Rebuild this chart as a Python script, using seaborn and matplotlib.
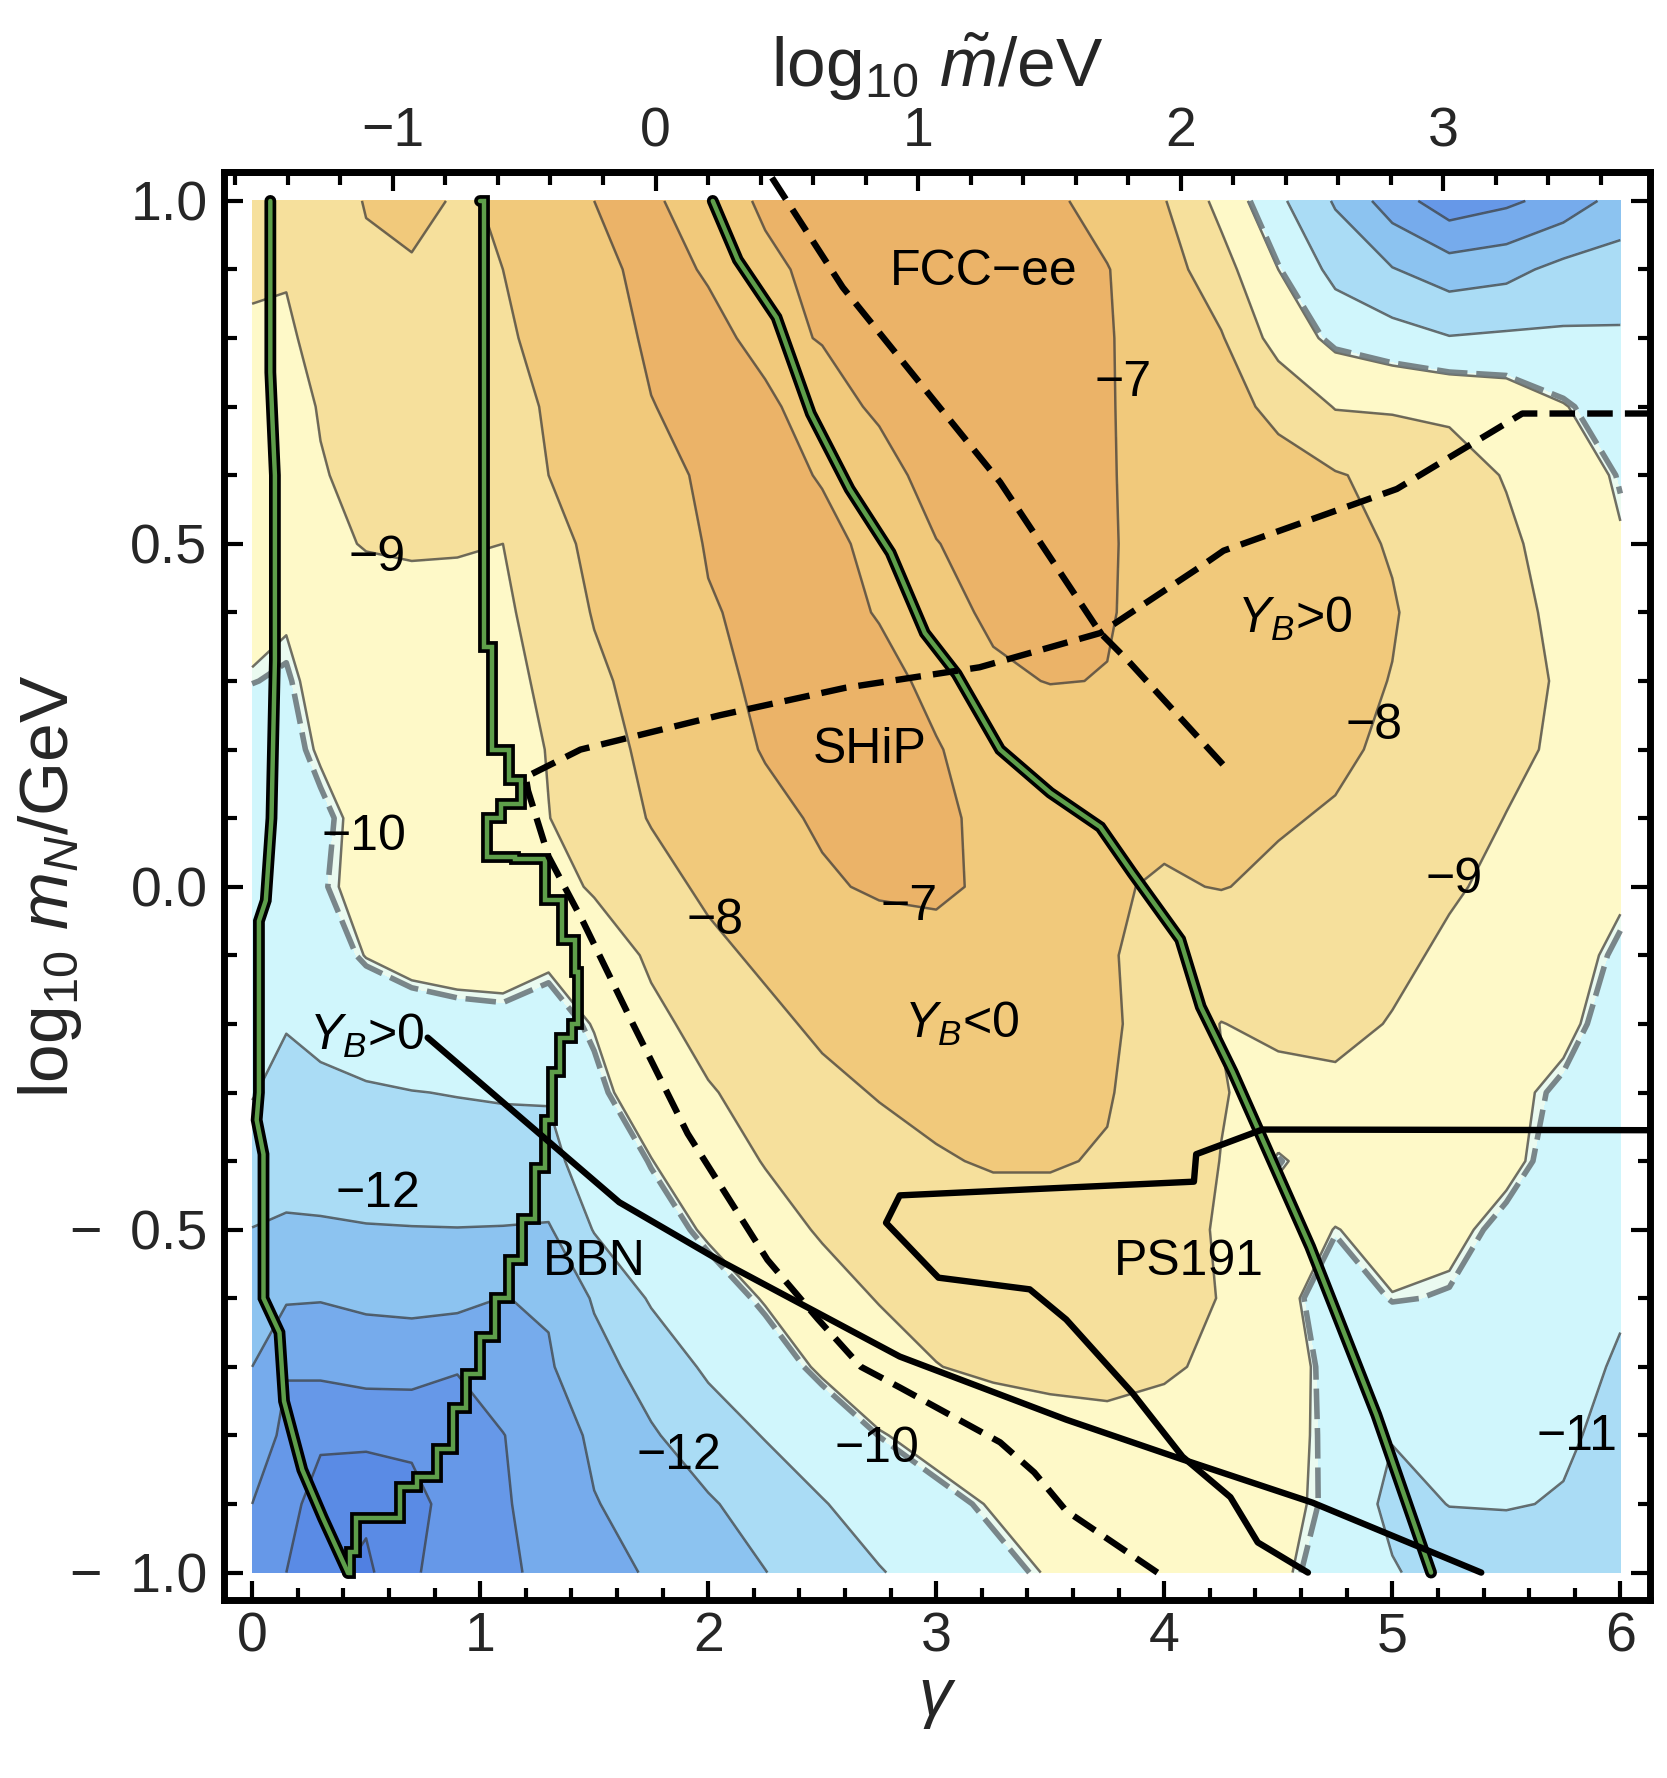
import numpy as np
import matplotlib
matplotlib.use("Agg")
import matplotlib.pyplot as plt
from matplotlib.ticker import MultipleLocator, FuncFormatter
import seaborn as sns

# ---- grid of log10|Y_B| ----
GAMMA = [0, 0.15, 0.3, 0.5, 0.7, 0.9, 1.1, 1.3, 1.5, 1.75, 2.0, 2.25, 2.5, 2.75,
         3.0, 3.25, 3.5, 3.75, 4.0, 4.25, 4.5, 4.75, 5.0, 5.25, 5.5, 5.75, 6.0]
LOGMN = [1.0, 0.9, 0.8, 0.7, 0.6, 0.5, 0.4, 0.3, 0.2, 0.1, 0.0,
         -0.1, -0.2, -0.3, -0.4, -0.5, -0.6, -0.7, -0.8, -0.9, -1.0]

z_p10 = [-8.8, -8.9, -8.5, -7.95, -7.85, -8.05, -7.95, -7.5, -7.0, -6.85, -7.5, -6.85, -6.6, -6.5,
         -6.5, -6.6, -6.85, -7.3, -7.95, -9.3, -10.8, -12.1, -13.5, -14.6, -14.2, -13.6, -12.6]
z_p09 = [-8.95, -8.95, -8.6, -8.15, -8.05, -8.2, -8.0, -7.55, -7.2, -6.8, -7.05, -7.2, -6.75, -6.55,
         -6.5, -6.6, -6.8, -6.97, -7.55, -8.62, -10.0, -11.3, -11.95, -12.5, -12.3, -11.7, -11.55]
z_p08 = [-9.05, -9.1, -8.8, -8.4, -8.3, -8.4, -8.15, -7.71, -7.33, -6.9, -6.85, -7.15, -6.97, -6.65,
         -6.55, -6.6, -6.75, -6.95, -7.35, -7.92, -9.4, -10.25, -10.6, -10.95, -10.85, -10.85, -10.87]
z_p07 = [-9.3, -9.3, -8.95, -8.6, -8.5, -8.6, -8.5, -7.87, -7.49, -7.02, -6.8, -6.9, -7.25, -6.9,
         -6.6, -6.6, -6.7, -6.95, -7.3, -7.7, -8.2, -9.05, -9.1, -9.15, -9.4, -9.95, -10.5]
z_p06 = [-9.5, -9.5, -9.05, -8.8, -8.7, -8.75, -8.95, -8.0, -7.65, -7.2, -6.9, -6.75, -7.05, -7.25,
         -6.75, -6.65, -6.7, -6.95, -7.25, -7.5, -7.7, -7.93, -8.25, -8.65, -9.05, -9.6, -10.1]
z_p05 = [-9.6, -9.6, -9.2, -8.95, -8.9, -8.95, -9.0, -8.15, -7.9, -7.45, -6.95, -6.75, -6.8, -7.2,
         -7.02, -6.75, -6.7, -6.95, -7.2, -7.4, -7.6, -7.8, -8.05, -8.45, -8.85, -9.35, -9.95]
z_p04 = [-9.8, -9.95, -9.6, -9.4, -9.3, -9.2, -9.2, -8.5, -7.95, -7.5, -7.05, -6.85, -6.7, -7.05,
         -7.3, -6.85, -6.8, -6.95, -7.25, -7.45, -7.6, -7.75, -7.95, -8.35, -8.75, -9.2, -9.8]
z_p03 = [-10.05, -10.1, -9.85, -9.55, -9.45, -9.4, -9.3, -8.8, -8.15, -7.7, -7.2, -6.85, -6.7, -6.75,
         -7.2, -7.15, -6.97, -7.02, -7.3, -7.45, -7.6, -7.8, -8.02, -8.35, -8.7, -9.1, -9.7]
z_p02 = [-10.3, -10.2, -9.95, -9.65, -9.55, -9.5, -9.55, -8.95, -8.35, -7.8, -7.35, -6.95, -6.75, -6.75,
         -6.95, -7.35, -7.6, -7.55, -7.6, -7.7, -7.8, -7.9, -8.1, -8.45, -8.8, -9.15, -9.7]
z_p01 = [-10.5, -10.3, -10.15, -9.85, -9.7, -9.75, -9.9, -9.02, -8.5, -7.95, -7.6, -7.2, -6.9, -6.8,
         -6.8, -7.25, -7.7, -7.95, -7.9, -7.9, -7.95, -8.05, -8.3, -8.65, -9.02, -9.3, -9.75]
z_00 = [-10.6, -10.4, -10.1, -9.85, -9.7, -9.65, -9.7, -9.5, -8.85, -8.3, -7.85, -7.45, -7.1, -6.9,
        -6.85, -7.15, -7.5, -7.95, -8.05, -7.98, -8.1, -8.3, -8.55, -8.9, -9.2, -9.5, -9.9]
z_m01 = [-10.7, -10.7, -10.35, -9.98, -9.8, -9.75, -9.75, -9.9, -9.8, -8.8, -8.2, -7.85, -7.6, -7.4,
         -7.3, -7.4, -7.6, -7.9, -8.4, -8.4, -8.35, -8.5, -8.8, -9.15, -9.45, -9.75, -10.15]
z_m02 = [-10.8, -10.95, -10.75, -10.5, -10.35, -10.25, -10.2, -10.3, -9.97, -9.3, -8.6, -8.2, -7.85, -7.65,
         -7.55, -7.55, -7.65, -7.85, -8.4, -9.02, -8.8, -8.75, -9.05, -9.35, -9.65, -9.85, -10.35]
z_m03 = [-10.95, -11.3, -11.2, -11.1, -11.02, -10.97, -10.9, -10.95, -10.2, -9.63, -9.09, -8.6, -8.2, -7.95,
         -7.85, -7.8, -7.8, -7.95, -8.35, -8.95, -9.3, -9.2, -9.35, -9.55, -9.85, -10.15, -10.55]
z_m04 = [-11.4, -11.7, -11.6, -11.5, -11.45, -11.4, -11.5, -11.2, -10.65, -10.02, -9.5, -8.95, -8.55, -8.3,
         -8.05, -7.95, -7.95, -8.05, -8.45, -9.02, -10.1, -9.55, -9.5, -9.6, -9.85, -10.3, -10.7]
z_m05 = [-12.02, -12.1, -12.1, -12.05, -12.03, -12.02, -12.03, -12.1, -10.95, -10.4, -9.9, -9.4, -8.9, -8.6,
         -8.4, -8.25, -8.25, -8.35, -8.6, -9.1, -9.6, -10.02, -9.8, -9.85, -10.2, -10.5, -10.8]
z_m06 = [-12.5, -12.9, -12.95, -12.8, -12.75, -12.75, -13.02, -12.9, -11.9, -10.9, -10.4, -9.95, -9.4, -8.95,
         -8.75, -8.6, -8.55, -8.6, -8.8, -9.02, -9.7, -10.5, -10.02, -10.1, -10.45, -10.7, -10.95]
z_m07 = [-13.0, -13.95, -13.8, -13.65, -13.6, -13.9, -13.6, -13.1, -12.35, -11.6, -10.85, -10.4, -9.9, -9.45,
         -9.02, -8.85, -8.8, -8.8, -8.9, -9.15, -9.6, -10.3, -10.75, -10.6, -10.7, -10.85, -11.05]
z_m08 = [-13.5, -14.2, -14.8, -14.75, -14.8, -14.8, -14.02, -13.6, -12.8, -12.1, -11.5, -10.95, -10.5, -10.05,
         -9.75, -9.5, -9.3, -9.2, -9.3, -9.5, -9.75, -10.2, -10.95, -10.8, -10.75, -10.9, -11.2]
z_m09 = [-14.0, -14.6, -15.5, -15.8, -15.3, -14.6, -14.1, -13.6, -13.05, -12.6, -12.1, -11.6, -11.05, -10.6,
         -10.25, -9.95, -9.8, -9.7, -9.65, -9.7, -9.85, -10.15, -11.3, -10.98, -10.95, -11.05, -11.35]
z_m10 = [-14.5, -15.0, -15.8, -16.2, -15.1, -14.6, -14.15, -13.8, -13.35, -12.9, -12.45, -12.02, -11.5, -11.05,
         -10.65, -10.25, -9.95, -9.8, -9.7, -9.75, -9.9, -10.3, -10.9, -11.5, -11.5, -11.45, -11.4]

YB_OBS = -10.06  # observed asymmetry, dashed contour

# ---- Y_B = 0 lines (green) ----
g1_x = [0.08, 0.08, 0.10, 0.10, 0.085, 0.06, 0.03, 0.03, 0.02, 0.05, 0.05, 0.12, 0.14, 0.22, 0.31, 0.42]
g1_y = [1.0, 0.75, 0.6, 0.33, 0.1, -0.02, -0.05, -0.3, -0.34, -0.39, -0.6, -0.65, -0.75, -0.85, -0.92, -1.0]
g2_x = [0.42, 0.44, 0.47, 0.55, 0.62, 0.68, 0.77, 0.85, 0.91, 0.97, 1.03, 1.10, 1.15, 1.22, 1.26, 1.31,
        1.32, 1.38, 1.43, 1.43, 1.40, 1.32, 1.25, 1.06, 1.00, 1.18, 1.18, 1.07, 1.03, 1.00, 1.03, 1.00]
g2_y = [-1.0, -0.97, -0.92, -0.92, -0.92, -0.875, -0.86, -0.82, -0.76, -0.71, -0.656, -0.6, -0.544, -0.485,
        -0.41, -0.34, -0.27, -0.22, -0.2, -0.125, -0.077, -0.02, 0.04, 0.044, 0.10, 0.12, 0.156, 0.20,
        0.35, 0.6, 0.8, 1.0]
g3_x = [2.02, 2.13, 2.30, 2.45, 2.62, 2.80, 2.95, 3.09, 3.28, 3.50, 3.72, 3.86, 4.07, 4.16, 4.30, 4.42,
        4.64, 4.93, 5.17]
g3_y = [1.0, 0.914, 0.83, 0.69, 0.58, 0.487, 0.37, 0.31, 0.20, 0.137, 0.087, 0.02, -0.077, -0.175,
        -0.27, -0.36, -0.525, -0.77, -1.0]

# ---- experimental sensitivity lines ----
ship_x = [3.97, 3.57, 3.43, 3.28, 2.84, 2.67, 2.48, 2.26, 1.91, 1.67, 1.45, 1.30, 1.21, 1.20, 1.44,
          2.05, 2.60, 3.19, 3.72, 4.16, 4.26, 5.02, 5.57, 6.20]
ship_y = [-1.0, -0.91, -0.854, -0.81, -0.73, -0.70, -0.63, -0.544, -0.36, -0.2, -0.05, 0.044, 0.14, 0.16,
          0.20, 0.25, 0.29, 0.32, 0.37, 0.467, 0.49, 0.58, 0.69, 0.69]
fcc_x = [2.19, 2.59, 2.92, 3.28, 3.72, 3.84, 4.28]
fcc_y = [1.08, 0.874, 0.738, 0.59, 0.37, 0.33, 0.17]
bbn_x = [0.77, 1.26, 1.61, 2.05, 2.84, 3.57, 4.08, 4.65, 5.39]
bbn_y = [-0.22, -0.36, -0.46, -0.545, -0.685, -0.777, -0.835, -0.898, -1.0]
ps191_x = [6.20, 4.43, 4.14, 4.13, 2.84, 2.78, 3.01, 3.41, 3.57, 3.86, 4.08, 4.29, 4.41, 4.63]
ps191_y = [-0.355, -0.354, -0.39, -0.43, -0.45, -0.49, -0.57, -0.587, -0.631, -0.738, -0.831, -0.89,
           -0.956, -1.0]

# ---- in-plot labels ----
label_text = ["FCC\u2212ee", "\u22127", "$Y_B$>0", "\u22129", "SHiP", "\u22128", "\u221210", "\u22127",
              "\u22128", "\u22129", "$Y_B$<0", "$Y_B$>0", "\u221212", "BBN", "PS191", "\u221211",
              "\u221212", "\u221210"]
label_x = [3.21, 3.82, 4.57, 0.55, 2.71, 4.92, 0.49, 2.88, 2.03, 5.27, 3.11, 0.50, 0.55, 1.50, 4.11,
           5.81, 1.87, 2.74]
label_y = [0.896, 0.734, 0.39, 0.48, 0.20, 0.235, 0.073, -0.03, -0.05, 0.01, -0.20, -0.217, -0.448,
           -0.547, -0.547, -0.803, -0.83, -0.82]

# band boundaries and fills
LEVELS = [-17, -16, -15, -14, -13, -12, -11, YB_OBS, -10, -9, -8, -7, -5]
BAND_COLORS = ["#5080E2", "#5A8BE5", "#6698E8", "#76ABEC", "#8CC3F0", "#AADCF5", "#D0F6FC",
               "#EAFAF0", "#FEF9C8", "#F6E09C", "#F1C97B", "#EBB368"]
LINE_LEVELS = [-16, -15, -14, -13, -12, -11, -10, -9, -8, -7]

sns.set_theme(style="white")
plt.rcParams["font.family"] = ["Liberation Sans", "DejaVu Sans"]
plt.rcParams["mathtext.fontset"] = "custom"
plt.rcParams["mathtext.rm"] = "Liberation Sans"
plt.rcParams["mathtext.it"] = "Liberation Sans:italic"
plt.rcParams["mathtext.bf"] = "Liberation Sans:bold"

Z = np.array([z_p10, z_p09, z_p08, z_p07, z_p06, z_p05, z_p04, z_p03, z_p02, z_p01, z_00,
              z_m01, z_m02, z_m03, z_m04, z_m05, z_m06, z_m07, z_m08, z_m09, z_m10])
GG, YY = np.meshgrid(GAMMA, LOGMN)

fig = plt.figure(figsize=(16.67, 17.78), dpi=100)
ax = fig.add_axes([0.1344, 0.1001, 0.8554, 0.8031])

ax.contourf(GG, YY, Z, levels=LEVELS, colors=BAND_COLORS, zorder=1)
ax.contour(GG, YY, Z, levels=LINE_LEVELS, colors="#3a3a3a", linewidths=1.8, alpha=0.72,
           linestyles="solid", zorder=2)
obs = ax.contour(GG, YY, Z, levels=[YB_OBS], colors="#6E7A7E", linewidths=4.0, alpha=0.9, zorder=3)
obs.set_linestyle([(0, (5.5, 1.6))])

# Y_B = 0 boundaries
for xs, ys, ds in [(g1_x, g1_y, "default"), (g2_x, g2_y, "steps-mid"), (g3_x, g3_y, "default")]:
    ax.plot(xs, ys, color="black", lw=8.5, drawstyle=ds, solid_joinstyle="miter", zorder=4)
    ax.plot(xs, ys, color="#5E9E4A", lw=3.2, drawstyle=ds, solid_joinstyle="miter", zorder=5)

# experiments
sns.lineplot(x=bbn_x, y=bbn_y, sort=False, estimator=None, color="black", lw=4.6, ax=ax, zorder=6)
sns.lineplot(x=ps191_x, y=ps191_y, sort=False, estimator=None, color="black", lw=4.6, ax=ax, zorder=6)
for xs, ys in [(ship_x, ship_y), (fcc_x, fcc_y)]:
    ax.plot(xs, ys, color="black", lw=4.6, linestyle=(0, (4.0, 1.9)), dash_capstyle="butt", zorder=6)

for s, x, y in zip(label_text, label_x, label_y):
    ax.text(x, y, s, ha="center", va="center", fontsize=36, color="black", zorder=7)

# axes styling
ax.set_xlim(-0.123, 6.13)
ax.set_ylim(-1.04, 1.042)
ax.set_xticks(range(7))
ax.xaxis.set_minor_locator(MultipleLocator(0.2))
ax.set_yticks([-1.0, -0.5, 0.0, 0.5, 1.0])
ax.yaxis.set_minor_locator(MultipleLocator(0.1))
ax.xaxis.set_major_formatter(FuncFormatter(lambda v, p: f"{v:.0f}"))
ax.yaxis.set_major_formatter(FuncFormatter(lambda v, p: f"{v:.1f}".replace("-", "\u2212\u2002")))
ax.tick_params(which="both", direction="in", top=False, right=True, left=True, bottom=True,
               width=3, color="black", labelsize=40)
ax.tick_params(which="major", length=14)
ax.tick_params(which="minor", length=9)
ax.tick_params(axis="x", pad=8)
ax.tick_params(axis="y", pad=12)
for sp in ax.spines.values():
    sp.set_linewidth(5)
    sp.set_color("black")
ax.set_xlabel(r"$\gamma$", fontsize=48, labelpad=4)
ax.set_ylabel(r"log$_{10}$ $m_N$/GeV", fontsize=50)
ax.yaxis.set_label_coords(-0.098, 0.5)
ax.grid(False)


def g2m(g):
    return (np.asarray(g) - 1.769) / 1.1513


def m2g(m):
    return 1.769 + 1.1513 * np.asarray(m)


sec = ax.secondary_xaxis("top", functions=(g2m, m2g))
sec.set_xticks([-1, 0, 1, 2, 3])
sec.xaxis.set_minor_locator(MultipleLocator(0.2))
sec.xaxis.set_major_formatter(FuncFormatter(lambda v, p: f"{v:.0f}".replace("-", "\u2212")))
sec.tick_params(which="both", direction="in", width=3, color="black", labelsize=40, pad=10)
sec.tick_params(which="major", length=14)
sec.tick_params(which="minor", length=9)
sec.spines["top"].set_linewidth(5)
sec.set_xlabel(r"log$_{10}$ $\tilde{m}$/eV", fontsize=50, labelpad=14)

fig.savefig("out.png", dpi=100)
